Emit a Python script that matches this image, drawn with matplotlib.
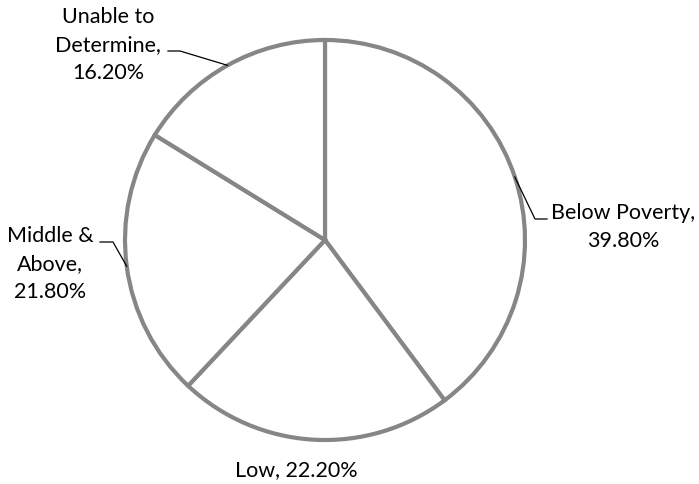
import numpy as np
import matplotlib
matplotlib.use("Agg")
import matplotlib.pyplot as plt

categories = ["Below Poverty", "Low", "Middle & Above", "Unable to Determine"]
shares = [39.80, 22.20, 21.80, 16.20]
label_lines = ["Below Poverty,\n39.80%", "Low, 22.20%", "Middle &\nAbove,\n21.80%",
               "Unable to\nDetermine,\n16.20%"]

W, H = 699, 484
fig = plt.figure(figsize=(W / 100, H / 100), dpi=100)
ax = fig.add_axes([0, 0, 1, 1])

cx, cy, r = 325, H - 240, 200
wedges, _ = ax.pie(shares, startangle=90, counterclock=False, center=(cx, cy), radius=r,
                   colors=["white"] * len(shares),
                   wedgeprops=dict(edgecolor="#868686", linewidth=3, joinstyle="miter"),
                   frame=True)
ax.set_xlim(0, W)
ax.set_ylim(0, H)
ax.set_aspect("equal")
ax.axis("off")

plt.rcParams["font.family"] = ["Lato", "DejaVu Sans"]
fs = 15.5

def arc_point(w):
    mid = np.deg2rad((w.theta1 + w.theta2) / 2)
    return cx + r * np.cos(mid), cy + r * np.sin(mid)

# text centre (image coordinates) and the bends of each leader line
layout = {
    "Below Poverty": dict(text=(623, 227), stub=[(535, 219), (547, 219)]),
    "Low": dict(text=(296, 470), stub=None),
    "Middle & Above": dict(text=(50, 264), stub=[(113, 242), (100, 242)]),
    "Unable to Determine": dict(text=(108, 45), stub=[(180, 51), (168, 51)]),
}

for w, cat, txt in zip(wedges, categories, label_lines):
    spec = layout[cat]
    tx, ty = spec["text"]
    ax.text(tx, H - ty, txt, ha="center", va="center", fontsize=fs,
            linespacing=1.5, color="black")
    if spec["stub"]:
        px, py = arc_point(w)
        xs = [px] + [p[0] for p in spec["stub"]]
        ys = [py] + [H - p[1] for p in spec["stub"]]
        ax.plot(xs, ys, color="black", linewidth=0.9)

fig.savefig("out.png", dpi=100, facecolor="white")
